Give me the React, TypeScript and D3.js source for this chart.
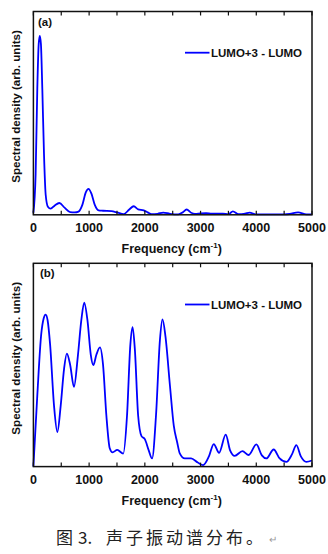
import React from "react";
import * as d3 from "d3";

// Panel (a): frequency (cm^-1) and spectral density (arb. units, 0-100)
const freqA = [0, 40, 70, 95, 115, 135, 160, 190, 220, 260, 310, 380, 465, 560, 660, 740, 810, 880, 940, 990, 1040, 1100, 1170, 1250, 1400, 1500, 1620, 1720, 1800, 1880, 1980, 2050, 2120, 2230, 2330, 2450, 2600, 2680, 2750, 2830, 2900, 3000, 3100, 3200, 3400, 3500, 3580, 3680, 3800, 3880, 4000, 4200, 4500, 4600, 4750, 4900, 5000];
const densA = [1, 20, 62, 84, 88, 84, 62, 30, 10, 4, 3, 4.5, 5.8, 3.5, 1.3, 1.2, 1.6, 5, 11, 12.8, 10.5, 5, 2.2, 2, 1.8, 1.2, 0.3, 2.6, 4.2, 2.7, 2.2, 1.2, 0.3, 0.5, 1.1, 0.5, 0.2, 1.2, 2.6, 1.0, 0.5, 0.7, 0.8, 0.6, 0.6, 0.3, 1.7, 0.3, 0.6, 1.1, 0.2, 0.2, 0.2, 0.4, 1.2, 0.2, 0.2];

// Panel (b)
const freqB = [0, 70, 140, 185, 220, 255, 300, 370, 430, 490, 550, 600, 660, 728, 800, 860, 912, 970, 1030, 1075, 1130, 1195, 1250, 1310, 1370, 1420, 1505, 1612, 1680, 1740, 1780, 1820, 1880, 1940, 2000, 2070, 2130, 2200, 2270, 2317, 2370, 2450, 2520, 2580, 2627, 2717, 2830, 2950, 3045, 3150, 3237, 3332, 3452, 3530, 3613, 3751, 3864, 4002, 4100, 4181, 4312, 4420, 4540, 4640, 4719, 4800, 4898, 5000];
const densB = [0, 35, 65, 73, 74.8, 72, 60, 30, 17, 30, 48, 55.6, 50, 39.2, 55, 72, 80.7, 72, 55, 49.9, 55, 58.6, 50, 25, 9, 7, 8.2, 6.4, 25, 60, 68.6, 58, 25, 15, 13.5, 8, 4, 25, 62, 72.4, 64, 40, 20, 12, 6.5, 4, 4, 2, 0.7, 5, 11.1, 6.8, 15.7, 8, 5.3, 7.6, 5.7, 10.9, 5.5, 4.0, 8.4, 4, 2.3, 6, 10.6, 5, 2.3, 3.0];

const xTicks = [0, 1000, 2000, 3000, 4000, 5000];
const xTickMarks = [0, 500, 1000, 1500, 2000, 2500, 3000, 3500, 4000, 4500, 5000];
const seriesName = "LUMO+3 - LUMO";
const panelLabels = ["(a)", "(b)"];
const yTitle = "Spectral density (arb. units)";
const caption = "声子振动谱分布。";

const FONT = "'Liberation Sans', Arial, sans-serif";

function Panel({ top, freq, dens, label, labelX }: any) {
  const left = 33.4, right = 312, height = 203.3;
  const bottom = top + height;
  const x = d3.scaleLinear().domain([0, 5000]).range([left, right]);
  const y = d3.scaleLinear().domain([0, 100]).range([bottom, top]);
  const data = freq.map((f: number, i: number) => [f, dens[i]]);
  const line = d3.line<number[]>().x(d => x(d[0])).y(d => y(d[1])).curve(d3.curveMonotoneX);
  return (
    <g>
      <path d={line(data) || ""} fill="none" stroke="#0000ff" strokeWidth={1.8} />
      <rect x={left} y={top} width={right - left} height={height} fill="none" stroke="#111" strokeWidth={1.5} />
      {xTickMarks.map(t => (
        <g key={t}>
          <line x1={x(t)} x2={x(t)} y1={bottom} y2={bottom - 4} stroke="#111" strokeWidth={1.2} />
          <line x1={x(t)} x2={x(t)} y1={top} y2={top + 4} stroke="#111" strokeWidth={1.2} />
        </g>
      ))}
      {xTicks.map(t => (
        <text key={t} x={x(t)} y={bottom + 17} textAnchor="middle" fontFamily={FONT} fontWeight="bold" fontSize={12.5} fill="#111">{t}</text>
      ))}
      <text x={(left + right) / 2 - 1} y={bottom + 38} textAnchor="middle" fontFamily={FONT} fontWeight="bold" fontSize={12.5} fill="#111">
        Frequency (cm<tspan fontSize={8} dy={-5}>-1</tspan><tspan dy={5}>)</tspan>
      </text>
      <text transform={`translate(19.5,${top + 95}) rotate(-90)`} textAnchor="middle" fontFamily={FONT} fontWeight="bold" fontSize={11.6} fill="#111">{yTitle}</text>
      <text x={labelX} y={top + 14} fontFamily={FONT} fontWeight="bold" fontSize={11.5} fill="#111">{label}</text>
      <line x1={185} x2={209.5} y1={top + 41.2} y2={top + 41.2} stroke="#0000ff" strokeWidth={1.8} />
      <text x={211} y={top + 45.2} fontFamily={FONT} fontWeight="bold" fontSize={11.5} fill="#111">{seriesName}</text>
    </g>
  );
}

export default function App() {
  return (
    <svg width={328} height={554} style={{ position: "absolute", left: 0, top: 0, background: "#fff" }}>
      <rect width={328} height={554} fill="#fff" />
      <Panel top={11.5} freq={freqA} dens={densA} label={panelLabels[0]} labelX={38} />
      <Panel top={263.3} freq={freqB} dens={densB} label={panelLabels[1]} labelX={40} />
      <g fontFamily="'Noto Sans CJK SC', sans-serif" fontSize={17} fill="#222">
        <text x={56} y={544}>图</text>
        <text x={78} y={544}>3.</text>
        <text x={106} y={544} letterSpacing={3}>{caption}</text>
        <text x={269} y={543} fontSize={10} fill="#999">↵</text>
      </g>
    </svg>
  );
}
